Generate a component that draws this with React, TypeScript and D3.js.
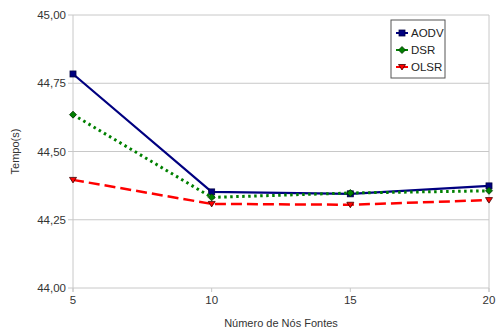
import React from "react";
import * as d3 from "d3";

const xValues = [5, 10, 15, 20];
const aodv = [44.784, 44.352, 44.345, 44.374];
const dsr = [44.635, 44.332, 44.348, 44.356];
const olsr = [44.396, 44.308, 44.305, 44.322];
const yTicks = [44.0, 44.25, 44.5, 44.75, 45.0];
const seriesNames = ["AODV", "DSR", "OLSR"];

const W = 499, H = 331;
const m = { left: 73, right: 489, top: 15, bottom: 288 };

export default function App() {
  const x = d3.scaleLinear().domain([5, 20]).range([m.left, m.right]);
  const y = d3.scaleLinear().domain([44, 45]).range([m.bottom, m.top]);
  const line = d3.line<number>().x((_, i) => x(xValues[i])).y((d) => y(d));
  const fmt = (v: number) => v.toFixed(2).replace(".", ",");
  const font = "Liberation Sans, Arial, sans-serif";

  const series = [
    { name: seriesNames[0], data: aodv, color: "#000080", dash: undefined, width: 2.2, marker: "square" },
    { name: seriesNames[1], data: dsr, color: "#008000", dash: "2.5,3.5", width: 3, marker: "diamond" },
    { name: seriesNames[2], data: olsr, color: "#ff0000", dash: "11,5", width: 2.5, marker: "tri" },
  ];

  const marker = (type: string, cx: number, cy: number, color: string, key: string) => {
    if (type === "square")
      return <rect key={key} x={cx - 3} y={cy - 3} width={6} height={6} fill={color} stroke="#000040" strokeWidth={0.8} />;
    if (type === "diamond")
      return <path key={key} d={`M${cx},${cy - 3.5}L${cx + 3.5},${cy}L${cx},${cy + 3.5}L${cx - 3.5},${cy}Z`} fill={color} stroke="#003000" strokeWidth={0.8} />;
    return <path key={key} d={`M${cx - 3.5},${cy - 2.5}L${cx + 3.5},${cy - 2.5}L${cx},${cy + 3}Z`} fill={color} stroke="#400000" strokeWidth={0.8} />;
  };

  return (
    <svg width={W} height={H} style={{ position: "absolute", left: 0, top: 0 }} fontFamily={font}>
      <rect width={W} height={H} fill="#fff" />
      {yTicks.map((t) => (
        <g key={t}>
          <line x1={m.left - 5} x2={m.right} y1={y(t)} y2={y(t)} stroke="#c8c8c8" strokeWidth={1} />
          <text x={m.left - 7} y={y(t) + 4} fontSize={11.5} textAnchor="end" fill="#333">{fmt(t)}</text>
        </g>
      ))}
      <line x1={m.left} x2={m.left} y1={m.top} y2={m.bottom + 4} stroke="#c8c8c8" />
      <line x1={m.right} x2={m.right} y1={m.top} y2={m.bottom + 4} stroke="#c8c8c8" />
      {xValues.map((v) => (
        <g key={v}>
          <line x1={x(v)} x2={x(v)} y1={m.bottom} y2={m.bottom + 4} stroke="#c8c8c8" />
          <text x={x(v)} y={m.bottom + 16} fontSize={11.5} textAnchor="middle" fill="#333">{v}</text>
        </g>
      ))}
      <text x={281} y={327} fontSize={11} textAnchor="middle" fill="#333">Número de Nós Fontes</text>
      <text transform={`translate(19,${y(44.5)}) rotate(-90)`} fontSize={11} textAnchor="middle" fill="#333">Tempo(s)</text>
      {series.map((s) => (
        <g key={s.name}>
          <path d={line(s.data) || ""} fill="none" stroke={s.color} strokeWidth={s.width} strokeDasharray={s.dash} />
          {s.data.map((d, i) => marker(s.marker, x(xValues[i]), y(d), s.color, s.name + i))}
        </g>
      ))}
      <g>
        <rect x={391} y={20} width={54} height={58} fill="#fff" stroke="#555" strokeWidth={1} />
        {series.map((s, i) => {
          const ly = 33 + i * 17;
          return (
            <g key={s.name}>
              <line x1={396} x2={408} y1={ly} y2={ly} stroke={s.color} strokeWidth={2} />
              {marker(s.marker, 402, ly, s.color, "l" + s.name)}
              <text x={411} y={ly + 4} fontSize={11.5} fill="#222">{s.name}</text>
            </g>
          );
        })}
      </g>
    </svg>
  );
}
